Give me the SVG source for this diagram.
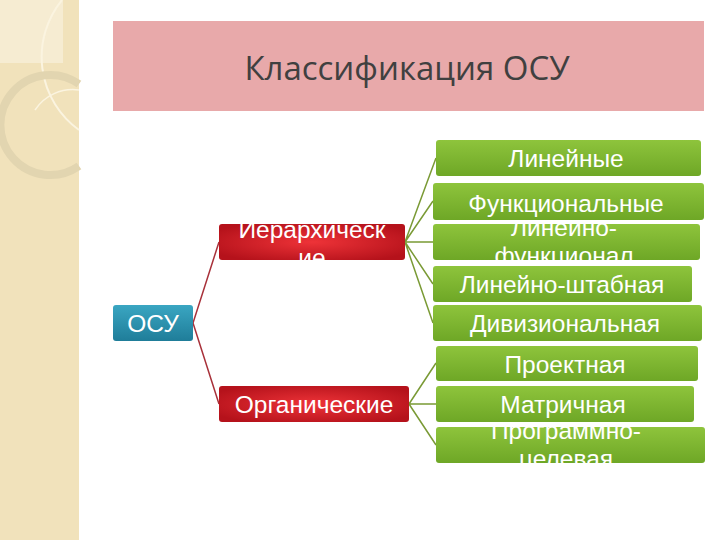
<svg xmlns="http://www.w3.org/2000/svg" width="720" height="540" viewBox="0 0 720 540">
<defs>
<linearGradient id="g" x1="0" y1="0" x2="0" y2="1"><stop offset="0" stop-color="#8ec43c"/><stop offset="1" stop-color="#6ea726"/></linearGradient>
<radialGradient id="r" cx="0.5" cy="0.5" r="0.6"><stop offset="0" stop-color="#ee3338"/><stop offset="1" stop-color="#b5121b"/></radialGradient>
<linearGradient id="b" x1="0" y1="0" x2="0" y2="1"><stop offset="0" stop-color="#3aa6c2"/><stop offset="1" stop-color="#1f7d99"/></linearGradient>
<clipPath id="c1"><rect x="433" y="224" width="267" height="36"/></clipPath>
<clipPath id="c2"><rect x="436" y="427" width="269" height="36"/></clipPath>
<clipPath id="c3"><rect x="219" y="224" width="186" height="36"/></clipPath>
</defs>
<style>
.gn{fill:url(#g)}.rd{fill:url(#r)}
text{font-family:"Liberation Sans",Arial,sans-serif;font-size:24.5px;fill:#fff;text-anchor:middle}
.t{font-family:"Open Sans","DejaVu Sans",sans-serif;font-size:33px;fill:#404040}
.lr{stroke:#a8313a;stroke-width:1.5;fill:none}.lg{stroke:#7a9a35;stroke-width:1.5;fill:none}
</style>
<rect width="720" height="540" fill="#fff"/>
<rect x="0" y="0" width="79" height="540" fill="#f1e2bb"/>
<rect x="0" y="0" width="63" height="63" fill="#f6ecd2"/>
<path d="M62 0 A90 90 0 0 0 79 130" fill="none" stroke="#fbf4e0" stroke-width="2"/>
<path d="M79 84 A50 50 0 1 0 79 166" fill="none" stroke="#e2d5b0" stroke-width="8"/>
<path d="M79 90 A45 45 0 0 0 35 110" fill="none" stroke="#fbf4e0" stroke-width="1.5"/>
<rect x="113" y="21" width="591" height="90" fill="#e8a9aa"/>
<text class="t" x="407" y="80">Классификация ОСУ</text>
<g id="connectors">
<path class="lr" d="M193 323 L219 242 M193 323 L219 404"/>
<path class="lg" d="M405 242 L436 158 M405 242 L433 201 M405 242 L433 242 M405 242 L433 284 M405 242 L433 323 M409 404 L436 363 M409 404 L436 404 M409 404 L436 445"/>
</g>
<g id="osu"><rect x="113" y="305" width="80" height="36" rx="3" fill="url(#b)"/><text x="153" y="332">ОСУ</text></g>
<g id="hier"><rect class="rd" x="219" y="224" width="186" height="36" rx="3"/><g clip-path="url(#c3)"><text x="312" y="238">Иерархическ</text><text x="312" y="266">ие</text></g></g>
<g id="org"><rect class="rd" x="219" y="386" width="190" height="36" rx="3"/><text x="314" y="413">Органические</text></g>
<g id="n1"><rect class="gn" x="436" y="140" width="265" height="36" rx="3"/><text x="566" y="167">Линейные</text></g>
<g id="n2"><rect class="gn" x="433" y="183" width="271" height="37" rx="3"/><text x="566" y="212">Функциональные</text></g>
<g id="n3"><rect class="gn" x="433" y="224" width="267" height="36" rx="3"/><g clip-path="url(#c1)"><text x="564" y="236">Линейно-</text><text x="564" y="264">функционал</text></g></g>
<g id="n4"><rect class="gn" x="433" y="266" width="259" height="36" rx="3"/><text x="562" y="293">Линейно-штабная</text></g>
<g id="n5"><rect class="gn" x="433" y="305" width="269" height="36" rx="3"/><text x="565" y="332">Дивизиональная</text></g>
<g id="n6"><rect class="gn" x="436" y="346" width="262" height="35" rx="3"/><text x="565" y="373">Проектная</text></g>
<g id="n7"><rect class="gn" x="436" y="386" width="258" height="36" rx="3"/><text x="563" y="413">Матричная</text></g>
<g id="n8"><rect class="gn" x="436" y="427" width="269" height="36" rx="3"/><g clip-path="url(#c2)"><text x="566" y="439">Программно-</text><text x="566" y="467">целевая</text></g></g>
</svg>
